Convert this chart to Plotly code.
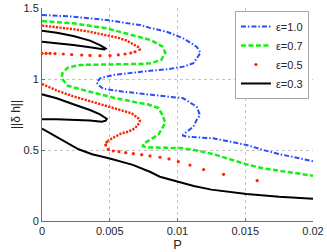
import plotly.graph_objects as go

# ---- data ----
x_ticks = [0, 0.005, 0.01, 0.015, 0.02]
x_tick_labels = ["0", "0.005", "0.01", "0.015", "0.02"]
y_ticks = [0, 0.5, 1, 1.5]
y_tick_labels = ["0", "0.5", "1", "1.5"]

# eps = 1.0 (blue, dash-dot)
blue_p = [0, 0.00231, 0.00477, 0.00723, 0.00797, 0.0092, 0.01043, 0.01141, 0.0117,
          0.01117, 0.01043, 0.0092, 0.00797, 0.00723, 0.00526, 0.00428, 0.00404, 0.0042,
          0.00452, 0.006, 0.00723, 0.00846, 0.0092, 0.01043, 0.01141, 0.01166, 0.01141,
          0.01117, 0.01043, 0.0104, 0.01068, 0.01141, 0.01264, 0.01387, 0.01511, 0.01633,
          0.01756, 0.0188, 0.02]
blue_h = [1.451, 1.439, 1.415, 1.38, 1.36, 1.333, 1.286, 1.228, 1.185,
          1.111, 1.087, 1.068, 1.058, 1.051, 1.028, 1.005, 0.975, 0.955,
          0.932, 0.911, 0.899, 0.885, 0.88, 0.864, 0.805, 0.746, 0.711,
          0.664, 0.61, 0.602, 0.594, 0.589, 0.582, 0.559, 0.535, 0.5,
          0.47, 0.446, 0.42]

# eps = 0.7 (green, dashed)
green_p = [0, 0.00231, 0.00477, 0.00723, 0.008, 0.0089, 0.0091, 0.0088, 0.008, 0.00723,
           0.00477, 0.0028, 0.0019, 0.0015, 0.00145, 0.0019, 0.00354, 0.00514, 0.00711,
           0.0078, 0.0086, 0.0089, 0.0091, 0.0089, 0.0086, 0.008, 0.0075, 0.00745, 0.0078,
           0.0088, 0.0099, 0.0104, 0.0114, 0.0126, 0.0139, 0.0151, 0.0163, 0.0176, 0.0188, 0.02]
green_h = [1.408, 1.392, 1.357, 1.298, 1.275, 1.228, 1.185, 1.134, 1.111, 1.106,
           1.103, 1.099, 1.08, 1.04, 1.005, 0.952, 0.91, 0.872, 0.832,
           0.822, 0.795, 0.745, 0.69, 0.655, 0.61, 0.572, 0.545, 0.527, 0.518,
           0.516, 0.516, 0.513, 0.497, 0.472, 0.434, 0.399, 0.371, 0.352, 0.336, 0.319]

# eps = 0.5 (red dots) -- densely sampled stretches
red_line_p = [0, 0.0011, 0.00231, 0.0035, 0.00477, 0.00563, 0.00625, 0.0068, 0.0071, 0.00722, 0.00715,
              None,
              0, 0.0005, 0.0012, 0.00231, 0.0035, 0.0048, 0.00588, 0.00662, 0.00711, 0.00723,
              0.0071, 0.00686, 0.00637, 0.00588, 0.00551, 0.00514, 0.00485]
red_line_h = [1.376, 1.365, 1.351, 1.333, 1.31, 1.29, 1.27, 1.243, 1.225, 1.21, 1.2,
              None,
              0.965, 0.945, 0.915, 0.878, 0.845, 0.812, 0.782, 0.758, 0.723, 0.708,
              0.68, 0.653, 0.629, 0.618, 0.599, 0.582, 0.565]
# eps = 0.5 -- individually visible points
red_dot_p = [0.00686, 0.00655, 0.00613, 0.00563, 0.00502, 0.00428, 0.00354, 0.00293, 0.00219,
             0.00157, 0.00096, 0.00059, 0.0003, 0,
             0.00478, 0.0047, 0.00489, 0.00526, 0.00568, 0.00618, 0.00674, 0.00736, 0.00797,
             0.00871, 0.00937, 0.01006, 0.01092, 0.01193, 0.0134, 0.01588]
red_dot_h = [1.192, 1.183, 1.176, 1.17, 1.165, 1.164, 1.166, 1.169, 1.172,
             1.176, 1.179, 1.181, 1.181, 1.181,
             0.556, 0.535, 0.504, 0.493, 0.488, 0.481, 0.474, 0.467, 0.458,
             0.449, 0.437, 0.418, 0.394, 0.362, 0.329, 0.285]

# eps = 0.3 (black, solid)
black_p = [0, 0.0011, 0.00231, 0.00354, 0.00428, 0.00465, 0.0047, 0.0046, 0.0043, 0.00354, 0.00231, 0.00108, 0,
           None,
           0, 0.00108, 0.00231, 0.00354, 0.00428, 0.00468, 0.00478, 0.0047, 0.0044, 0.00354, 0.00231, 0.00108, 0,
           None,
           0, 0.0009, 0.0018, 0.0027, 0.0037, 0.005, 0.0067, 0.008, 0.0087, 0.01, 0.0112, 0.0125,
           0.0137, 0.0151, 0.0175, 0.02]
black_h = [1.34, 1.326, 1.303, 1.27, 1.239, 1.222, 1.214, 1.208, 1.211, 1.223, 1.239, 1.251, 1.263,
           None,
           0.892, 0.864, 0.822, 0.782, 0.751, 0.73, 0.72, 0.706, 0.699, 0.707, 0.713, 0.716, 0.716,
           None,
           0.65, 0.6, 0.55, 0.505, 0.47, 0.44, 0.395, 0.345, 0.312, 0.275, 0.246, 0.221,
           0.206, 0.19, 0.171, 0.157]

BLUE = "#2a4bff"
GREEN = "#11f011"
RED = "#ff2200"
BLACK = "#000000"
FONT = "Liberation Sans, Arial, sans-serif"

fig = go.Figure()
fig.add_trace(go.Scatter(x=blue_p, y=blue_h, mode="lines", name="ε=1.0",
                         line=dict(color=BLUE, width=2, dash="5px,2px,1.5px,2px")))
fig.add_trace(go.Scatter(x=green_p, y=green_h, mode="lines", name="ε=0.7",
                         line=dict(color=GREEN, width=2.5, dash="5px,2.5px")))
fig.add_trace(go.Scatter(x=red_dot_p, y=red_dot_h, mode="markers", name="ε=0.5",
                         legendgroup="r", marker=dict(color=RED, size=3.2)))
fig.add_trace(go.Scatter(x=red_line_p, y=red_line_h, mode="lines", name="ε=0.5",
                         legendgroup="r", showlegend=False, connectgaps=False,
                         line=dict(color=RED, width=2.4, dash="2.2px,1.3px")))
fig.add_trace(go.Scatter(x=black_p, y=black_h, mode="lines", name="ε=0.3",
                         connectgaps=False, line=dict(color=BLACK, width=2)))

axis_common = dict(
    showline=True, linecolor="#6e6e6e", linewidth=1, mirror=False,
    ticks="inside", ticklen=3, tickcolor="#6e6e6e",
    showgrid=True, gridcolor="#c4c4c4", gridwidth=1, griddash="dot",
    zeroline=False, tickfont=dict(family=FONT, size=11, color="#262626"),
)
fig.update_xaxes(range=[0, 0.02], tickvals=x_ticks, ticktext=x_tick_labels,
                 title=dict(text="P", font=dict(family=FONT, size=13, color="#262626"), standoff=2),
                 automargin=False, **axis_common)
fig.update_yaxes(range=[0, 1.5], tickvals=y_ticks, ticktext=y_tick_labels,
                 title=dict(text="||δ h||", font=dict(family=FONT, size=12, color="#262626"), standoff=0),
                 automargin=False, **axis_common)

fig.update_layout(
    width=327, height=252,
    margin=dict(l=42, r=14, t=8, b=31),
    paper_bgcolor="white", plot_bgcolor="white",
    showlegend=True,
    hovermode=False,
    legend=dict(x=0.985, y=0.986, xanchor="right", yanchor="top",
                bgcolor="white", bordercolor="#a6a6a6", borderwidth=1,
                font=dict(family=FONT, size=11, color="#262626"),
                itemwidth=30, tracegroupgap=0),
)

fig.write_html("out.html",
               config={"displayModeBar": False, "staticPlot": True},
               post_script="document.body.style.margin='0';document.body.style.overflow='hidden';")
